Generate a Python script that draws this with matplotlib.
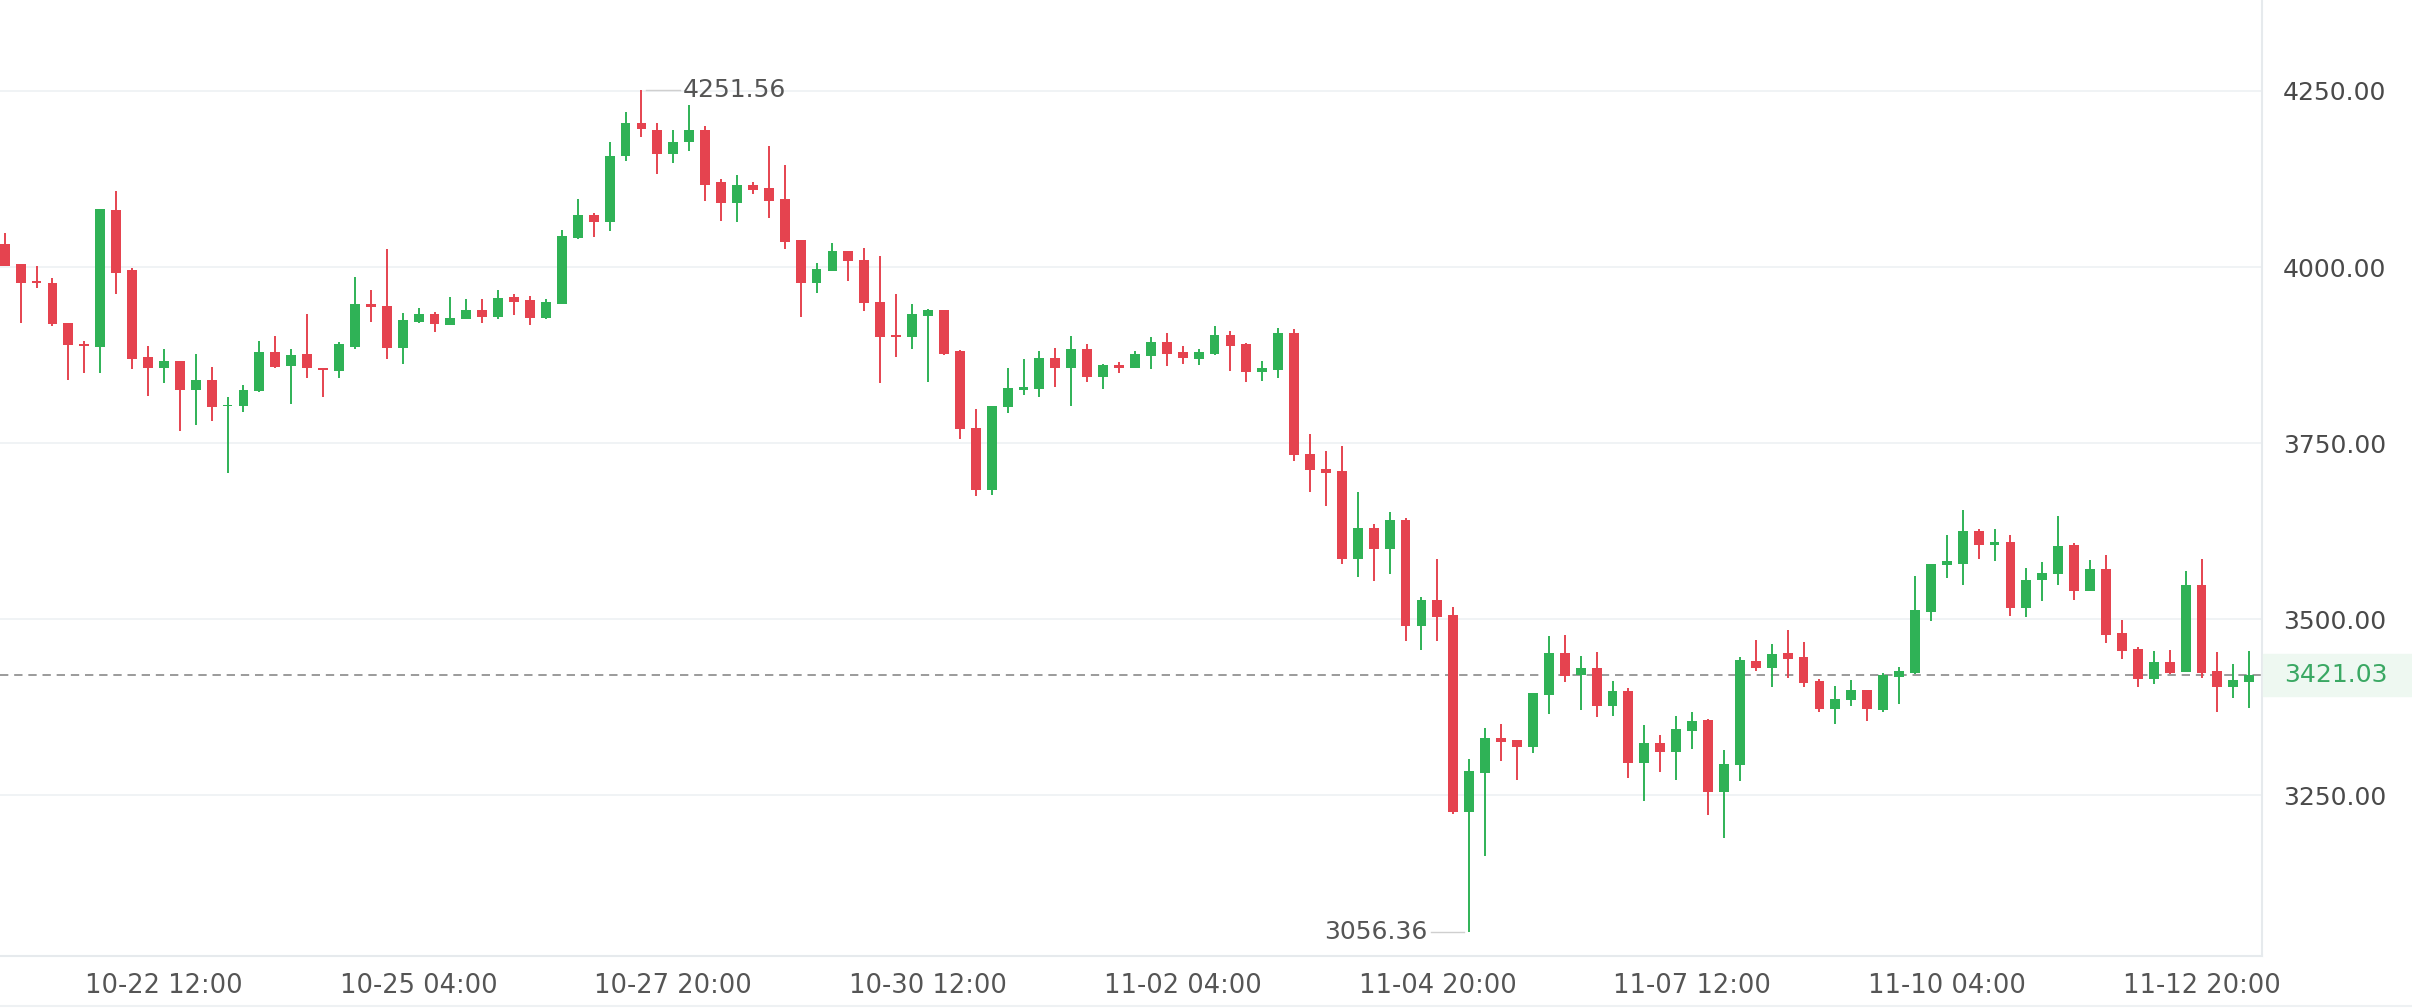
import numpy as np
import pandas as pd
import matplotlib
matplotlib.use('Agg')
import matplotlib.pyplot as plt
from matplotlib.lines import Line2D

# 4h candles
times = pd.date_range('2025-10-20 20:00', periods=142, freq='4h')

opens = [4033, 4004, 3980, 3978, 3921, 3891, 3887, 4081, 3996, 3872,
         3857, 3867, 3826, 3839, 3802, 3802, 3824, 3880, 3859, 3876,
         3857, 3853, 3887, 3947, 3945, 3885, 3922, 3933, 3918, 3926,
         3939, 3929, 3957, 3953, 3928, 3948, 4041, 4074, 4064, 4157,
         4205, 4195, 4160, 4178, 4195, 4120, 4091, 4116, 4112, 4096,
         4039, 3977, 3995, 4023, 4010, 3951, 3903, 3900, 3931, 3939,
         3881, 3772, 3683, 3801, 3825, 3827, 3871, 3857, 3884, 3844,
         3861, 3857, 3874, 3893, 3879, 3870, 3877, 3904, 3890, 3851,
         3854, 3906, 3735, 3713, 3710, 3585, 3630, 3600, 3641, 3490,
         3527, 3506, 3227, 3282, 3332, 3328, 3319, 3393, 3452, 3421,
         3431, 3377, 3398, 3296, 3324, 3311, 3341, 3357, 3255, 3293,
         3441, 3431, 3452, 3447, 3412, 3372, 3385, 3400, 3371, 3418,
         3423, 3511, 3577, 3579, 3625, 3606, 3609, 3516, 3556, 3564,
         3605, 3540, 3572, 3480, 3458, 3415, 3439, 3425, 3548, 3426,
         3404, 3411]
highs = [4048, 4004, 4001, 3984, 3921, 3895, 4083, 4108, 3998, 3888,
         3883, 3867, 3876, 3858, 3815, 3833, 3895, 3902, 3884, 3933,
         3857, 3893, 3986, 3967, 4025, 3935, 3942, 3936, 3957, 3954,
         3954, 3967, 3962, 3959, 3954, 4053, 4097, 4077, 4178, 4220,
         4251.56, 4205, 4195, 4230, 4200, 4125, 4130, 4120, 4172, 4145,
         4039, 4006, 4034, 4023, 4027, 4016, 3961, 3947, 3941, 3939,
         3882, 3799, 3803, 3857, 3870, 3881, 3885, 3902, 3890, 3862,
         3865, 3881, 3900, 3907, 3888, 3884, 3916, 3909, 3892, 3866,
         3914, 3912, 3763, 3739, 3746, 3680, 3635, 3652, 3644, 3531,
         3585, 3518, 3302, 3345, 3351, 3328, 3395, 3476, 3477, 3448,
         3453, 3412, 3402, 3350, 3335, 3362, 3368, 3358, 3315, 3447,
         3470, 3465, 3485, 3467, 3415, 3405, 3414, 3400, 3424, 3432,
         3561, 3578, 3620, 3655, 3628, 3628, 3619, 3573, 3581, 3646,
         3608, 3584, 3591, 3499, 3461, 3455, 3456, 3568, 3586, 3453,
         3437, 3455]
lows = [4001, 3921, 3970, 3916, 3839, 3849, 3850, 3962, 3855, 3817,
        3835, 3767, 3776, 3782, 3707, 3794, 3822, 3856, 3806, 3843,
        3816, 3843, 3883, 3922, 3869, 3863, 3920, 3908, 3918, 3926,
        3921, 3926, 3932, 3917, 3926, 3948, 4040, 4043, 4051, 4150,
        4185, 4132, 4148, 4165, 4093, 4066, 4064, 4104, 4069, 4025,
        3929, 3963, 3995, 3980, 3938, 3836, 3872, 3883, 3837, 3875,
        3756, 3675, 3676, 3793, 3818, 3815, 3829, 3802, 3837, 3827,
        3850, 3857, 3855, 3859, 3862, 3861, 3875, 3852, 3837, 3838,
        3843, 3725, 3680, 3661, 3579, 3560, 3555, 3564, 3469, 3457,
        3469, 3223, 3056.36, 3164, 3299, 3272, 3310, 3366, 3411, 3371,
        3361, 3363, 3275, 3242, 3283, 3272, 3316, 3222, 3190, 3271,
        3426, 3404, 3416, 3404, 3368, 3352, 3377, 3355, 3368, 3379,
        3422, 3498, 3559, 3549, 3585, 3583, 3505, 3503, 3526, 3549,
        3528, 3540, 3466, 3443, 3404, 3408, 3422, 3425, 3416, 3369,
        3388, 3374]
closes = [4001, 3978, 3977, 3919, 3889, 3888, 4082, 3992, 3869, 3857,
          3867, 3826, 3839, 3801, 3804, 3826, 3880, 3858, 3875, 3856,
          3854, 3890, 3947, 3943, 3885, 3925, 3933, 3919, 3927, 3939,
          3929, 3956, 3950, 3928, 3950, 4044, 4074, 4064, 4157, 4204,
          4196, 4160, 4178, 4195, 4116, 4091, 4116, 4110, 4094, 4036,
          3977, 3997, 4023, 4008, 3949, 3901, 3900, 3933, 3939, 3876,
          3770, 3683, 3803, 3828, 3830, 3871, 3857, 3884, 3844, 3861,
          3857, 3876, 3893, 3876, 3871, 3879, 3904, 3888, 3851, 3856,
          3906, 3733, 3712, 3708, 3585, 3630, 3600, 3641, 3490, 3527,
          3503, 3227, 3284, 3332, 3326, 3319, 3395, 3452, 3419, 3431,
          3377, 3398, 3296, 3324, 3311, 3344, 3356, 3255, 3295, 3442,
          3431, 3451, 3443, 3409, 3372, 3387, 3400, 3372, 3421, 3426,
          3513, 3578, 3582, 3625, 3606, 3609, 3516, 3556, 3566, 3604,
          3540, 3572, 3478, 3455, 3415, 3439, 3424, 3548, 3423, 3404,
          3414, 3421.03]

y_ticks = [3250, 3500, 3750, 4000, 4250]
tick_idx = [10, 26, 42, 58, 74, 90, 106, 122, 138]

GREEN = '#2fb256'
RED = '#e5434f'

fig = plt.figure(figsize=(24.12, 10.08), dpi=100)
ax = fig.add_axes([0, 1 - 956 / 1008, 2262 / 2412, 956 / 1008])

x = np.arange(len(opens))
o = np.array(opens)
c = np.array(closes)
up = c >= o
colors = np.where(up, GREEN, RED)

ax.vlines(x, lows, highs, colors=colors, linewidth=1.4, zorder=3)
body = np.maximum(np.abs(c - o), 2.5)
ax.bar(x, body, bottom=np.minimum(o, c), width=0.62, color=colors,
       linewidth=0, zorder=4)

ax.set_xlim(-0.295, 141.8)
ax.set_ylim(3022, 4379)

for yv in y_ticks:
    ax.axhline(yv, color='#eef1f4', linewidth=1.2, zorder=1)

# last price line
last = closes[-1]
ax.axhline(last, color='#8a8a8a', linewidth=1.2, linestyle=(0, (5, 3.5)), zorder=2)

# high / low markers
hi_i = int(np.argmax(highs))
lo_i = int(np.argmin(lows))
ax.plot([hi_i + 0.3, hi_i + 2.4], [highs[hi_i]] * 2, color='#cfcfcf', lw=1)
ax.text(hi_i + 2.6, highs[hi_i], f'{highs[hi_i]:.2f}', va='center', ha='left',
        fontsize=18, color='#555555')
ax.plot([lo_i - 2.4, lo_i - 0.3], [lows[lo_i]] * 2, color='#cfcfcf', lw=1)
ax.text(lo_i - 2.6, lows[lo_i], f'{lows[lo_i]:.2f}', va='center', ha='right',
        fontsize=18, color='#555555')

ax.yaxis.tick_right()
ax.set_yticks(y_ticks)
ax.set_yticklabels([f'{v:.2f}' for v in y_ticks], fontsize=18, color='#4a4a4a')
ax.tick_params(axis='y', length=0, pad=15)

ax.set_xticks(tick_idx)
ax.set_xticklabels([times[i].strftime('%m-%d %H:%M') for i in tick_idx],
                   fontsize=18.5, color='#555555')
ax.tick_params(axis='x', length=0, pad=12)

for s in ['top', 'left']:
    ax.spines[s].set_visible(False)
ax.spines['right'].set_color('#e6eaed')
ax.spines['bottom'].set_color('#e6eaed')
ax.spines['right'].set_linewidth(1.5)
ax.spines['bottom'].set_linewidth(1.5)

# price tag on the right axis
yl = ax.get_ylim()
fy = 1 - 956 / 1008 + (last - yl[0]) / (yl[1] - yl[0]) * 956 / 1008
fig.patches.append(plt.Rectangle((2263 / 2412, fy - 21 / 1008), 149 / 2412, 42 / 1008,
                                 transform=fig.transFigure, color='#eef8f1', zorder=0))
fig.text(2284 / 2412, fy, f'{last:.2f}', va='center', ha='left', fontsize=18,
         color='#3aa863')

fig.add_artist(Line2D([0, 1], [2 / 1008, 2 / 1008], color='#eef1f3', lw=1.5))

fig.savefig('out.png', dpi=100)
